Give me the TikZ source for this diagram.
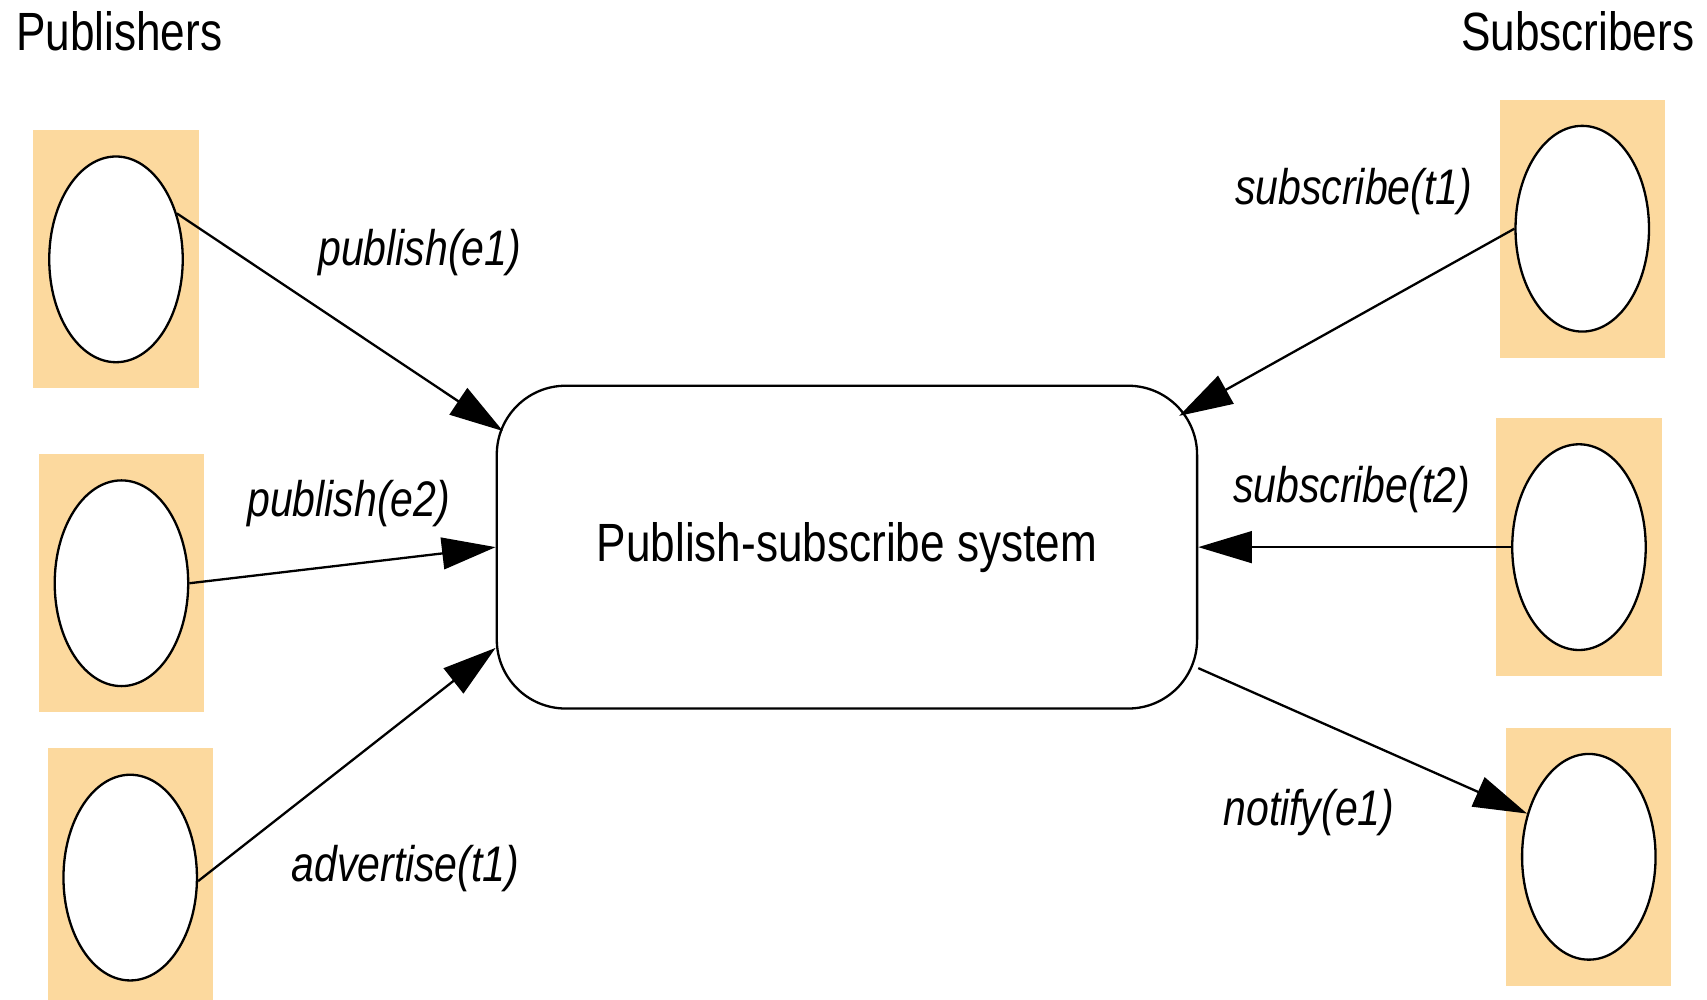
\documentclass[tikz,border=0pt]{standalone}
\usepackage{fontspec}
\setmainfont{Liberation Sans}[FakeStretch=0.82]
\usetikzlibrary{arrows.meta}
\usetikzlibrary{shapes.geometric}
\definecolor{hostBoxColor}{RGB}{252,217,158}
\definecolor{messageLineStyleColor}{RGB}{0,0,0}
\tikzset{
	hostBox/.style = {
		fill = hostBoxColor, inner sep = 0pt,
		minimum width = 15.1mm, minimum height = 23.6mm
	},
	host/.style = {
		draw, ellipse, fill = white, line width = 0.6pt, inner sep = 0pt,
		minimum width = 12.2mm, minimum height = 18.8mm
	},
	pubsub/.style = {
		draw, rounded corners = 6.3mm, line width = 0.6pt,
		minimum width = 64mm, minimum height = 29.5mm,
		font = \fontsize{14}{16}\selectfont
	},
	messageLineStyle/.style = {
		-{Triangle[length=4.9mm, width=2.9mm]}, line width = 0.6pt,
		draw = messageLineStyleColor
	},
	message/.style = {
		inner sep = 0pt, font = \fontsize{13}{15}\selectfont\itshape
	},
	heading/.style = {
		inner sep = 0pt, font = \fontsize{14}{16}\selectfont
	}
}

\begin{document}
\begin{tikzpicture}[x=0.1mm, y=-0.1mm]
	\useasboundingbox (0,0) rectangle (1560,913);

	\node [heading, anchor=base west] (PUB) at (14,46) {Publishers};
	\node [heading, anchor=base east] (SUB) at (1549,46) {Subscribers};

	% publishers
	\node [hostBox] (P1box) at (106,237) {};
	\node [hostBox] (P2box) at (111,533) {};
	\node [hostBox] (P3box) at (119,802) {};
	\node [host] (P1) at (P1box) {};
	\node [host] (P2) at (P2box) {};
	\node [host] (P3) at (P3box) {};

	% subscribers
	\node [hostBox] (S1box) at (1446,209) {};
	\node [hostBox] (S2box) at (1443,500) {};
	\node [hostBox] (S3box) at (1452,783) {};
	\node [host] (S1) at (S1box) {};
	\node [host] (S2) at (S2box) {};
	\node [host] (S3) at (S3box) {};

	\node [pubsub] (PSS) at (774,500) {Publish-subscribe system};

	\draw [messageLineStyle, shorten >=-0.8mm] (P1.37) to node[message, pos=0.44, anchor=south west, yshift=2.7mm] {publish(e1)} (PSS.161);
	\draw [messageLineStyle] (P2.east) to node[message, pos=0.52, anchor=south, yshift=3.3mm] {publish(e2)} (PSS.west);
	\draw [messageLineStyle] (P3.357) to node[message, pos=0.31, anchor=north west, yshift=-3.2mm] {advertise(t1)} (PSS.196);
	\draw [messageLineStyle, shorten >=-2mm] (S1.west) to node[message, pos=0.13, anchor=south east, yshift=3.3mm] {subscribe(t1)} (PSS.22);
	\draw [messageLineStyle] (S2.west) to node[message, pos=0.51, anchor=south, yshift=3mm] {subscribe(t2)} (PSS.east);
	\draw [messageLineStyle] (PSS.341) to node[message, pos=0.6, anchor=north east, yshift=-3mm] {notify(e1)} (S3.145);
\end{tikzpicture}
\end{document}
